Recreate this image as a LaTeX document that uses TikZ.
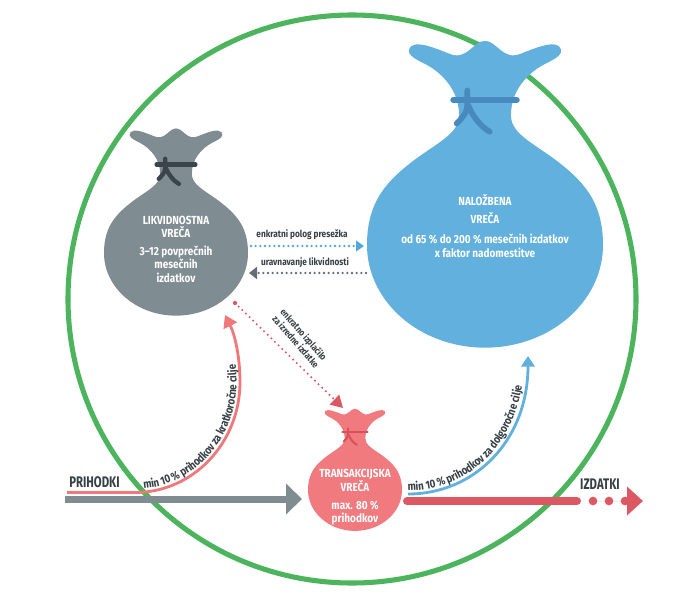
\documentclass[tikz,border=0pt]{standalone}
\usepackage{fontspec}
\setmainfont{Fira Sans}[FakeStretch=0.85]
\newfontfamily\narrowfont{Fira Sans}[FakeStretch=0.74]
\usetikzlibrary{arrows.meta,decorations.text}

\definecolor{ringgreen}{RGB}{76,180,92}
\definecolor{baggray}{RGB}{127,140,146}
\definecolor{tiegray}{RGB}{58,68,73}
\definecolor{bagblue}{RGB}{98,176,221}
\definecolor{tieblue}{RGB}{72,138,190}
\definecolor{bagpink}{RGB}{240,122,126}
\definecolor{tiepink}{RGB}{214,82,90}
\definecolor{barred}{RGB}{220,88,98}
\definecolor{curvepink}{RGB}{240,120,122}
\definecolor{txtdark}{RGB}{54,63,68}
\definecolor{dotblue}{RGB}{80,168,220}
\definecolor{dotgray}{RGB}{100,110,116}

\newcommand{\bagshape}[6]{%
\begin{scope}[shift={(#1,#2)},scale=#3,yscale=-1]
\fill[#4] (-1,0) .. controls (-1,0.38) and (-0.82,0.55) .. (-0.6,0.72)
 .. controls (-0.38,0.88) and (-0.22,0.95) .. (-0.22,1.1)
 .. controls (-0.22,1.3) and (-0.35,1.45) .. (-0.5,1.53)
 .. controls (-0.6,1.58) and (-0.68,1.62) .. (-0.63,1.68)
 .. controls (-0.58,1.73) and (-0.45,1.68) .. (-0.3,1.62)
 .. controls (-0.15,1.56) and (-0.1,1.73) .. (0,1.73)
 .. controls (0.1,1.73) and (0.15,1.56) .. (0.3,1.62)
 .. controls (0.45,1.68) and (0.58,1.73) .. (0.63,1.68)
 .. controls (0.68,1.62) and (0.6,1.58) .. (0.5,1.53)
 .. controls (0.35,1.45) and (0.22,1.3) .. (0.22,1.1)
 .. controls (0.22,0.95) and (0.38,0.88) .. (0.6,0.72)
 .. controls (0.82,0.55) and (1,0.38) .. (1,0)
 .. controls (1,-0.48) and (0.552,-0.87) .. (0,-0.87)
 .. controls (-0.552,-0.87) and (-1,-0.48) .. (-1,0) -- cycle;
\begin{scope}[draw=#5,line width=#6,line cap=round]
\draw (-0.27,1.23) -- (0.27,1.23);
\draw (-0.15,1.31) -- (-0.15,1.18) .. controls (-0.15,1.12) and (-0.2,1.07) .. (-0.24,1.03);
\draw (-0.14,1.18) .. controls (-0.1,1.08) and (-0.03,1.0) .. (0.04,0.96);
\end{scope}
\end{scope}}

\tikzset{
  ring/.style={draw=ringgreen,line width=3.8pt},
  bagtext/.style={text=white,font=\bfseries\fontsize{8.8}{10}\selectfont,align=center,inner sep=0pt},
  lbl/.style={text=txtdark,font=\bfseries\fontsize{7.3}{8}\selectfont,inner sep=0pt},
  bigword/.style={text=txtdark,font=\narrowfont\bfseries\fontsize{11.5}{12}\selectfont,inner sep=0pt},
  graybar/.style={draw=baggray,line width=5.25pt,-{Triangle[length=12pt,width=22.5pt]}},
  redbar/.style={draw=barred,line width=6pt,line cap=round},
  reddots/.style={draw=barred,fill=barred,line width=6.5pt,line cap=round,dash pattern=on 0pt off 12pt,-{Triangle[length=12pt,width=21pt]}},
  pinkline/.style={draw=curvepink,line width=2.1pt,-{Triangle[length=9pt,width=11pt]}},
  blueline/.style={draw=bagblue,line width=2.1pt,-{Triangle[length=8pt,width=10pt]}},
  bluedots/.style={draw=dotblue,line width=1.9pt,line cap=round,dash pattern=on 0pt off 3.5pt,-{Triangle[length=6pt,width=8pt]}},
  graydots/.style={draw=dotgray,line width=1.9pt,line cap=round,dash pattern=on 0pt off 3.5pt,-{Triangle[length=6pt,width=9pt]}},
  reddiag/.style={draw=barred,line width=1.7pt,line cap=round,dash pattern=on 0pt off 3.8pt,-{Triangle[length=9pt,width=10pt]}},
  curvetext/.style={decorate,decoration={text along path,text color=txtdark,raise=2.6pt,text align={left indent=#1}}}
}

\begin{document}
\begin{tikzpicture}[x=0.75pt,y=-0.75pt]
\fill[white] (0,0) rectangle (676,601);
\useasboundingbox (0,0) rectangle (676,601);

% green ring
\draw[ring] (352,299) circle[radius=213pt];

% bags
\bagshape{176}{253}{72}{baggray}{tiegray}{3.2pt}
\bagshape{485}{245}{118}{bagblue}{tieblue}{4.3pt}
\bagshape{355}{490}{47}{bagpink}{tiepink}{1.5pt}

% bag texts
\node[bagtext] (lq) at (176,249) {LIKVIDNOSTNA\\VREČA\\[3.5pt]3–12 povprečnih\\mesečnih\\izdatkov};
\node[bagtext] (nb) at (485,226) {NALOŽBENA\\[3.5pt]VREČA\\[5pt]od 65 \% do 200 \% mesečnih izdatkov\\x faktor nadomestitve};
\node[bagtext,font=\bfseries\fontsize{8.8}{9.3}\selectfont] (tr) at (355,497) {TRANSAKCIJSKA\\VREČA\\[4.2pt]max. 80 \%\\prihodkov};

% words
\node[bigword] (prih) at (94.5,482.5) {PRIHODKI};
\node[bigword] (izd) at (600,484.5) {IZDATKI};

% coordinates for connectors
\coordinate (prih-in) at (65,499);
\coordinate (tr-in) at (302,499);
\coordinate (pk-start) at (67,492.5);
\coordinate (pk-bend) at (135,492.5);
\coordinate (pk-mid) at (240,382);
\coordinate (lq-in) at (225,315);
\coordinate (tr-out) at (408,494);
\coordinate (nb-in) at (528,356);
\coordinate (tr-bar) at (407,501);
\coordinate (izd-a) at (577,501);
\coordinate (izd-b) at (593,501);
\coordinate (izd-tip) at (643,501);
\coordinate (lq-e1) at (251,246);
\coordinate (nb-w1) at (364,246);
\coordinate (nb-w2) at (366,273);
\coordinate (lq-e2) at (249,273);
\coordinate (lq-out) at (235,303);
\coordinate (tr-top) at (343,408);

% income arrow
\draw[graybar] (prih-in) -- (tr-in);
% pink curve to liquidity bag
\draw[pinkline] (pk-start) -- (pk-bend) .. controls (193,492.5) and (240,443) .. (pk-mid) .. controls (240,357) and (235,335) .. (lq-in);
\path[curvetext=7pt,decoration={text={|\bfseries\fontsize{8.6}{9}\selectfont|min 10 {\%} prihodkov za kratkoročne cilje}}]
  (pk-bend) .. controls (193,492.5) and (240,443) .. (pk-mid) .. controls (240,357) and (235,335) .. (lq-in);
% blue curve to investment bag
\draw[blueline] (tr-out) .. controls (475,494) and (528,440) .. (nb-in);
\path[curvetext=0pt,decoration={text={|\bfseries\fontsize{8.6}{9}\selectfont|min 10 {\%} prihodkov za dolgoročne cilje}}]
  (tr-out) .. controls (475,494) and (528,440) .. (nb-in);
% expenses
\draw[redbar] (tr-bar) -- (izd-a);
\draw[reddots] (izd-b) -- (izd-tip);

% dotted exchanges
\draw[bluedots] (lq-e1) -- (nb-w1);
\draw[graydots] (nb-w2) -- (lq-e2);
\node[lbl] (lbl-dep) at (302,235) {enkratni polog presežka};
\node[lbl] (lbl-rav) at (305,263) {uravnavanje likvidnosti};

% extraordinary withdrawal
\fill[barred] (lq-out) circle[radius=1.6pt];
\draw[reddiag] (lq-out) -- (tr-top);
\node[lbl,rotate=-49,align=left,font=\bfseries\fontsize{7}{8}\selectfont] (lbl-izp) at (300,338) {enkratno izplačilo\\za izredne izdatke};
\end{tikzpicture}
\end{document}
